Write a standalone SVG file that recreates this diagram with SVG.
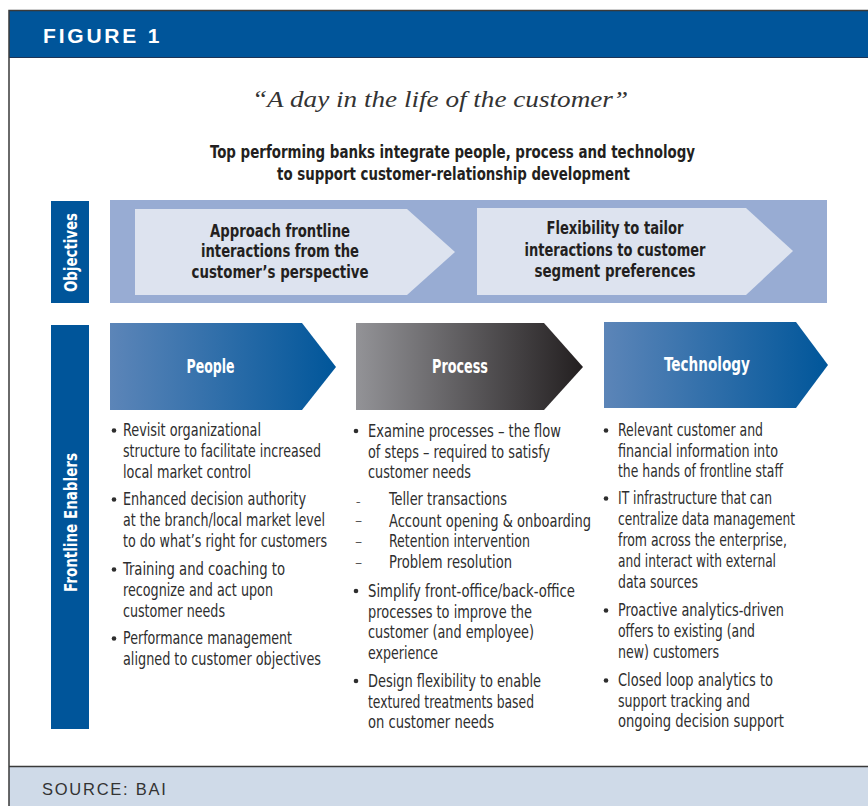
<svg xmlns="http://www.w3.org/2000/svg" width="868" height="806" viewBox="0 0 868 806">
  <defs>
    <linearGradient id="gradBlue" x1="0" y1="0" x2="1" y2="0">
      <stop offset="0" stop-color="#5c85b8"/>
      <stop offset="1" stop-color="#00569a"/>
    </linearGradient>
    <linearGradient id="gradGray" x1="0" y1="0" x2="1" y2="0">
      <stop offset="0" stop-color="#939397"/>
      <stop offset="1" stop-color="#231f20"/>
    </linearGradient>
    <style>
      .frame { stroke: #3a3a3a; stroke-width: 1.5; fill: none; }
      .navy { fill: #00559a; }
      .cond { font-family: "Liberation Sans Narrow", "DejaVu Sans Condensed", "Liberation Sans", sans-serif; }
      .hb { font-weight: bold; }
      .lbl { fill: #ffffff; font-size: 18px; font-weight: bold; text-anchor: middle; }
      .obj { fill: #231f20; font-size: 18px; font-weight: bold; text-anchor: middle; }
      .head { fill: #ffffff; font-size: 19px; font-weight: bold; text-anchor: middle; }
      .body { fill: #2e2e2e; font-size: 17.5px; }
      .dash { fill: #2e2e2e; font-size: 10px; }
      .dot { fill: #2e2e2e; }
    </style>
  </defs>

  <!-- page background -->
  <rect x="0" y="0" width="868" height="806" fill="#ffffff"/>

  <!-- header band -->
  <g id="header">
    <rect x="9" y="11" width="859" height="46" class="navy"/>
    <line x1="9" y1="57.5" x2="868" y2="57.5" stroke="#1d3557" stroke-width="1"/>
    <text x="43" y="43" fill="#ffffff" font-family="Liberation Sans, Arial, sans-serif" font-weight="900" font-size="21" letter-spacing="2.6" textLength="119" lengthAdjust="spacing">FIGURE 1</text>
  </g>

  <!-- footer band -->
  <g id="footer">
    <rect x="9" y="767" width="859" height="39" fill="#cfdae8"/>
    <line x1="9" y1="766.5" x2="868" y2="766.5" class="frame"/>
    <text x="42" y="795" fill="#333333" font-family="Liberation Sans, Arial, sans-serif" font-size="16.5" letter-spacing="1.2" textLength="125" lengthAdjust="spacing">SOURCE: BAI</text>
  </g>

  <!-- outer frame -->
  <path d="M868,10.5 H9 V806" class="frame"/>

  <!-- titles -->
  <g id="titles">
    <text x="440" y="107" text-anchor="middle" font-family="Liberation Serif, 'Times New Roman', serif" font-style="italic" font-size="24" fill="#333333" textLength="376" lengthAdjust="spacingAndGlyphs">“A day in the life of the customer”</text>
    <text x="452.5" y="157.5" class="cond hb" font-size="18" fill="#231f20" text-anchor="middle" textLength="485" lengthAdjust="spacingAndGlyphs">Top performing banks integrate people, process and technology</text>
    <text x="453.5" y="180" class="cond hb" font-size="18" fill="#231f20" text-anchor="middle" textLength="353" lengthAdjust="spacingAndGlyphs">to support customer-relationship development</text>
  </g>

  <!-- objectives row -->
  <g id="objectives-label">
    <rect x="51" y="201" width="38" height="102" class="navy"/>
    <text class="cond lbl" transform="translate(77,252.5) rotate(-90)" textLength="79" lengthAdjust="spacingAndGlyphs">Objectives</text>
  </g>
  <g id="objectives-band">
    <rect x="110" y="200" width="717" height="103" fill="#98acd3"/>
  </g>
  <g id="objective-1">
    <polygon points="135,209 407,209 455,252 407,295 135,295" fill="#dde3ef"/>
    <text class="cond obj" x="280" y="237" textLength="140" lengthAdjust="spacingAndGlyphs">Approach frontline</text>
    <text class="cond obj" x="280" y="257" textLength="158" lengthAdjust="spacingAndGlyphs">interactions from the</text>
    <text class="cond obj" x="280" y="278" textLength="177" lengthAdjust="spacingAndGlyphs">customer’s perspective</text>
  </g>
  <g id="objective-2">
    <polygon points="477,208 746,208 793,251 746,295 477,295" fill="#dde3ef"/>
    <text class="cond obj" x="615" y="234" textLength="137" lengthAdjust="spacingAndGlyphs">Flexibility to tailor</text>
    <text class="cond obj" x="615" y="256" textLength="181" lengthAdjust="spacingAndGlyphs">interactions to customer</text>
    <text class="cond obj" x="615" y="277" textLength="161" lengthAdjust="spacingAndGlyphs">segment preferences</text>
  </g>

  <!-- frontline enablers row -->
  <g id="enablers-label">
    <rect x="51" y="325" width="38" height="404" class="navy"/>
    <text class="cond lbl" transform="translate(77,522.5) rotate(-90)" textLength="139" lengthAdjust="spacingAndGlyphs">Frontline Enablers</text>
  </g>

  <g id="people">
    <polygon points="110,323 302,323 336,367 302,410 110,410" fill="url(#gradBlue)"/>
    <text class="cond head" x="210.5" y="373" textLength="48" lengthAdjust="spacingAndGlyphs">People</text>
    <g class="cond body">
      <text x="123" y="436" textLength="138" lengthAdjust="spacingAndGlyphs">Revisit organizational</text>
      <text x="123" y="457" textLength="198" lengthAdjust="spacingAndGlyphs">structure to facilitate increased</text>
      <text x="123" y="478" textLength="128" lengthAdjust="spacingAndGlyphs">local market control</text>
      <text x="123" y="505" textLength="183" lengthAdjust="spacingAndGlyphs">Enhanced decision authority</text>
      <text x="123" y="526" textLength="202" lengthAdjust="spacingAndGlyphs">at the branch/local market level</text>
      <text x="123" y="547" textLength="204" lengthAdjust="spacingAndGlyphs">to do what’s right for customers</text>
      <text x="123" y="575" textLength="162" lengthAdjust="spacingAndGlyphs">Training and coaching to</text>
      <text x="123" y="596" textLength="150" lengthAdjust="spacingAndGlyphs">recognize and act upon</text>
      <text x="123" y="617" textLength="102" lengthAdjust="spacingAndGlyphs">customer needs</text>
      <text x="123" y="644" textLength="169" lengthAdjust="spacingAndGlyphs">Performance management</text>
      <text x="123" y="665" textLength="198" lengthAdjust="spacingAndGlyphs">aligned to customer objectives</text>
    </g>
    <g class="dot">
      <circle cx="114" cy="430.5" r="2.3"/>
      <circle cx="114" cy="499.5" r="2.3"/>
      <circle cx="114" cy="569.5" r="2.3"/>
      <circle cx="114" cy="638.5" r="2.3"/>
    </g>
  </g>

  <g id="process">
    <polygon points="356,323 544,323 583,367 544,410 356,410" fill="url(#gradGray)"/>
    <text class="cond head" x="460" y="373" textLength="56" lengthAdjust="spacingAndGlyphs">Process</text>
    <g class="cond body">
      <text x="368" y="437" textLength="193" lengthAdjust="spacingAndGlyphs">Examine processes – the flow</text>
      <text x="368" y="458" textLength="182" lengthAdjust="spacingAndGlyphs">of steps – required to satisfy</text>
      <text x="368" y="478" textLength="103" lengthAdjust="spacingAndGlyphs">customer needs</text>
      <text x="389" y="505" textLength="118" lengthAdjust="spacingAndGlyphs">Teller transactions</text>
      <text x="389" y="526.5" textLength="202" lengthAdjust="spacingAndGlyphs">Account opening &amp; onboarding</text>
      <text x="389" y="547" textLength="141" lengthAdjust="spacingAndGlyphs">Retention intervention</text>
      <text x="389" y="568" textLength="123" lengthAdjust="spacingAndGlyphs">Problem resolution</text>
      <text x="368" y="596.5" textLength="207" lengthAdjust="spacingAndGlyphs">Simplify front-office/back-office</text>
      <text x="368" y="617.5" textLength="164" lengthAdjust="spacingAndGlyphs">processes to improve the</text>
      <text x="368" y="638" textLength="166" lengthAdjust="spacingAndGlyphs">customer (and employee)</text>
      <text x="368" y="658.5" textLength="70" lengthAdjust="spacingAndGlyphs">experience</text>
      <text x="368" y="686.5" textLength="173" lengthAdjust="spacingAndGlyphs">Design flexibility to enable</text>
      <text x="368" y="707.5" textLength="166" lengthAdjust="spacingAndGlyphs">textured treatments based</text>
      <text x="368" y="728" textLength="126" lengthAdjust="spacingAndGlyphs">on customer needs</text>
    </g>
    <!-- sub-list dashes -->
    <g class="cond dash">
      <text x="356" y="505">–</text>
      <text transform="translate(355,524) scale(1.6,1)">–</text>
      <text transform="translate(355,544.5) scale(1.6,1)">–</text>
      <text transform="translate(355,565.5) scale(1.6,1)">–</text>
    </g>
    <g class="dot">
      <circle cx="356" cy="431" r="2.3"/>
      <circle cx="356" cy="591" r="2.3"/>
      <circle cx="356" cy="681" r="2.3"/>
    </g>
  </g>

  <g id="technology">
    <polygon points="604,322 796,322 828,365 796,408 604,408" fill="url(#gradBlue)"/>
    <text class="cond head" x="707" y="371" textLength="86" lengthAdjust="spacingAndGlyphs">Technology</text>
    <g class="cond body">
      <text x="618" y="436" textLength="145" lengthAdjust="spacingAndGlyphs">Relevant customer and</text>
      <text x="618" y="456.5" textLength="160" lengthAdjust="spacingAndGlyphs">financial information into</text>
      <text x="618" y="477" textLength="165" lengthAdjust="spacingAndGlyphs">the hands of frontline staff</text>
      <text x="618" y="504" textLength="154" lengthAdjust="spacingAndGlyphs">IT infrastructure that can</text>
      <text x="618" y="525" textLength="177" lengthAdjust="spacingAndGlyphs">centralize data management</text>
      <text x="618" y="545.5" textLength="169" lengthAdjust="spacingAndGlyphs">from across the enterprise,</text>
      <text x="618" y="566.5" textLength="158" lengthAdjust="spacingAndGlyphs">and interact with external</text>
      <text x="618" y="588" textLength="80" lengthAdjust="spacingAndGlyphs">data sources</text>
      <text x="618" y="616" textLength="166" lengthAdjust="spacingAndGlyphs">Proactive analytics-driven</text>
      <text x="618" y="637" textLength="137" lengthAdjust="spacingAndGlyphs">offers to existing (and</text>
      <text x="618" y="658" textLength="101" lengthAdjust="spacingAndGlyphs">new) customers</text>
      <text x="618" y="686" textLength="155" lengthAdjust="spacingAndGlyphs">Closed loop analytics to</text>
      <text x="618" y="706.5" textLength="132" lengthAdjust="spacingAndGlyphs">support tracking and</text>
      <text x="618" y="727" textLength="166" lengthAdjust="spacingAndGlyphs">ongoing decision support</text>
    </g>
    <g class="dot">
      <circle cx="606" cy="430.5" r="2.3"/>
      <circle cx="606" cy="498.5" r="2.3"/>
      <circle cx="606" cy="610.5" r="2.3"/>
      <circle cx="606" cy="680.5" r="2.3"/>
    </g>
  </g>
</svg>
